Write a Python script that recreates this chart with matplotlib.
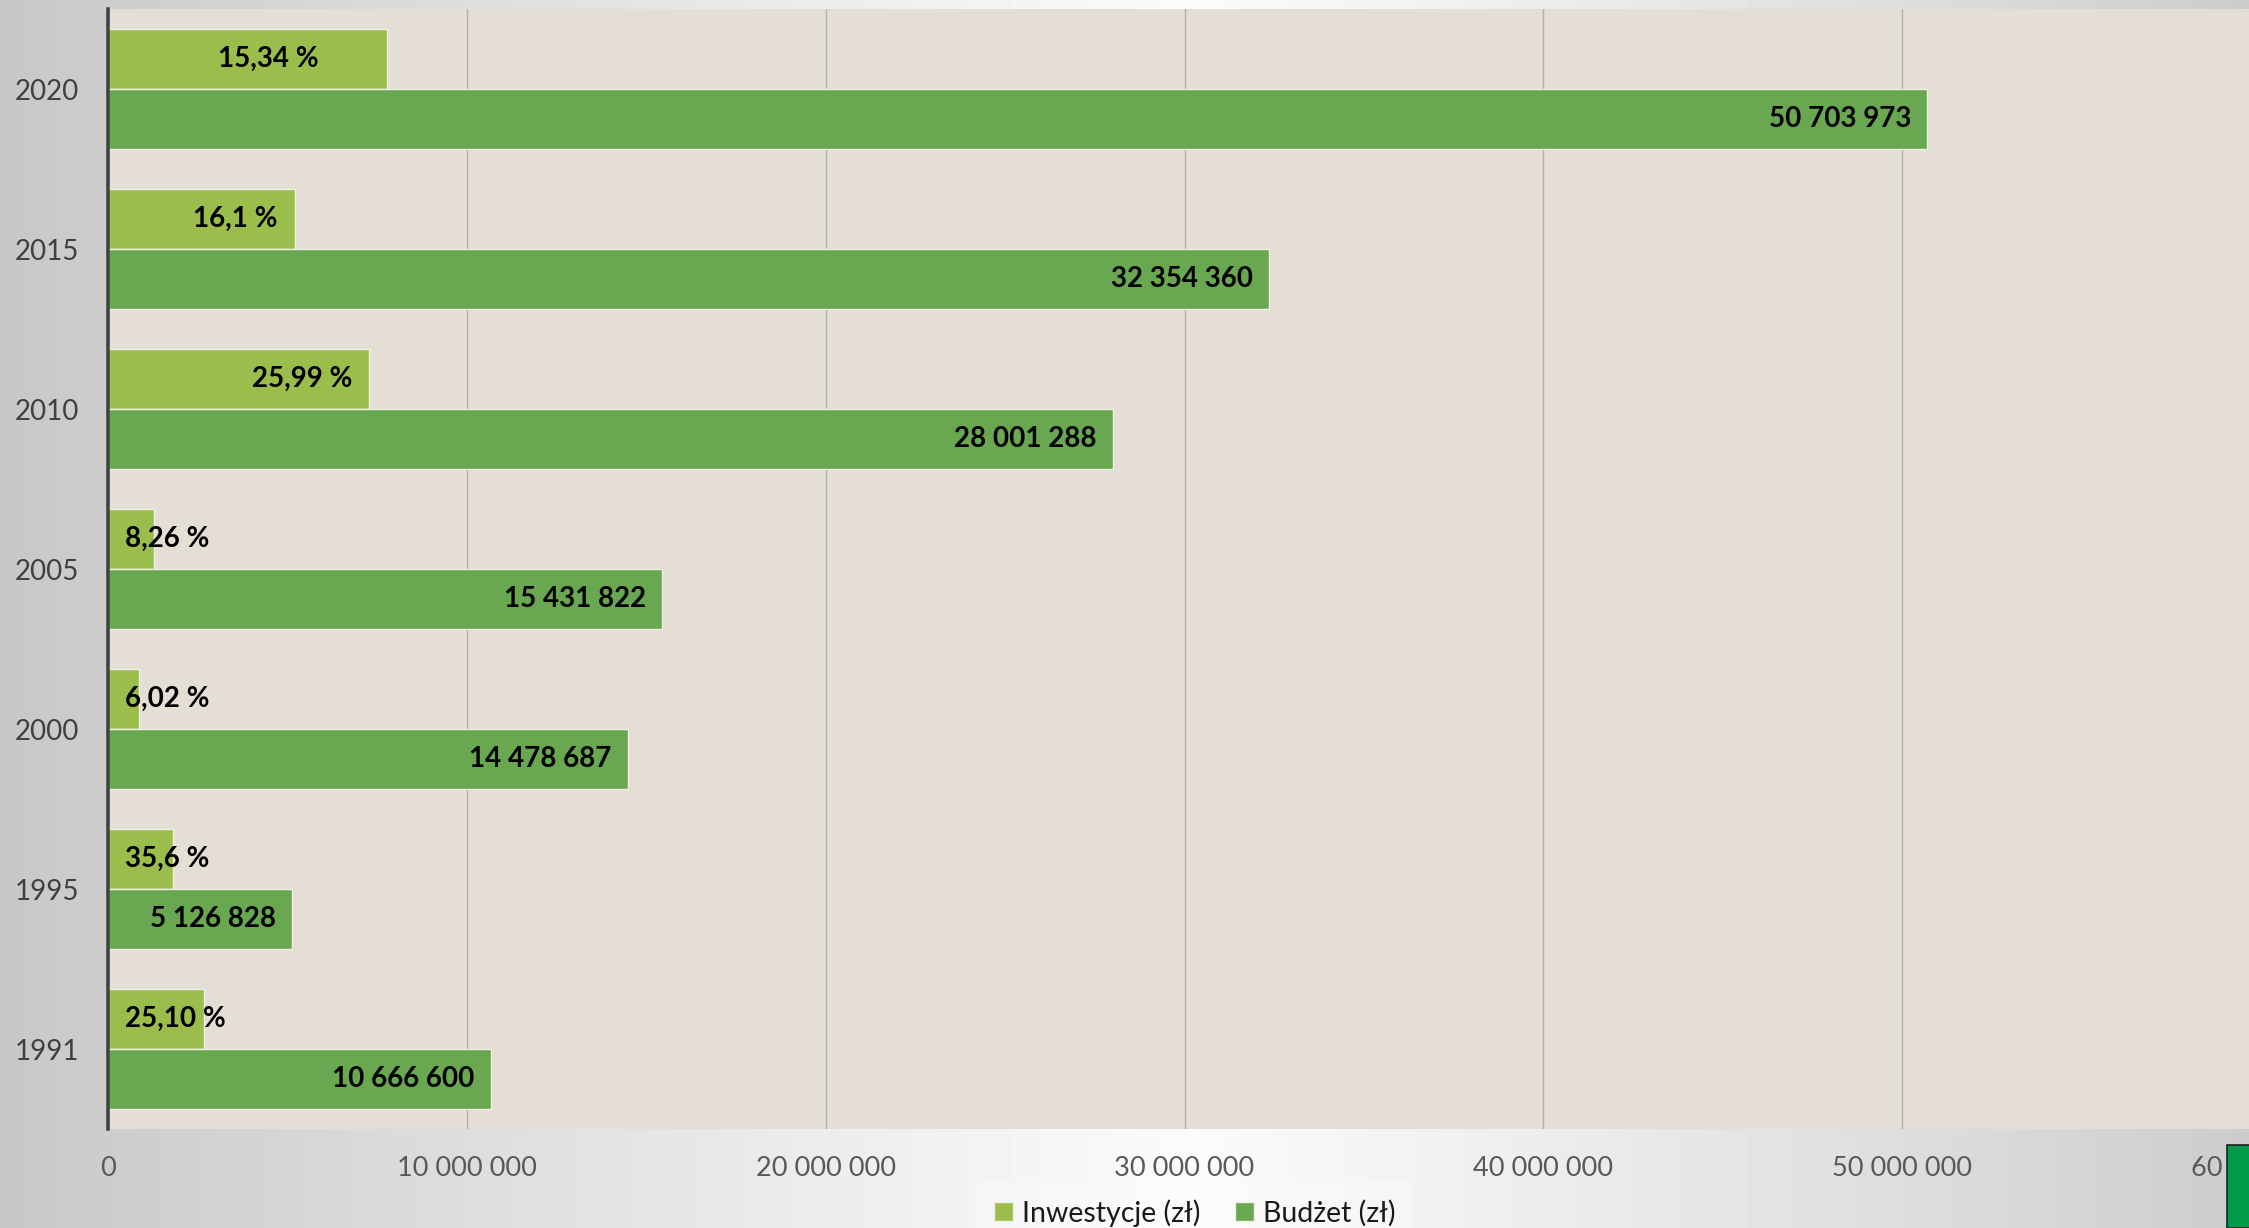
import matplotlib
matplotlib.use('Agg')
import matplotlib.pyplot as plt
import numpy as np
from matplotlib.patches import Rectangle, Patch

# ---------------- data ----------------
years = ['1991', '1995', '2000', '2005', '2010', '2015', '2020']
budzet = [10666600, 5126828, 14478687, 15431822, 28001288, 32354360, 50703973]
inwestycje = [2677000, 1825000, 872000, 1275000, 7277000, 5209000, 7778000]
inw_labels = ['25,10 %', '35,6 %', '6,02 %', '8,26 %', '25,99 %', '16,1 %', '15,34 %']
bud_labels = ['10 666 600', '5 126 828', '14 478 687', '15 431 822',
              '28 001 288', '32 354 360', '50 703 973']
xtick_values = [0, 10000000, 20000000, 30000000, 40000000, 50000000, 60000000]
xtick_labels = ['0', '10 000 000', '20 000 000', '30 000 000', '40 000 000',
                '50 000 000', '60 000 000']
series_names = ['Inwestycje (zł)', 'Budżet (zł)']

# ---------------- style ----------------
FONT = ['Lato', 'DejaVu Sans']
plt.rcParams['font.family'] = FONT
C_INW = '#9bbd4c'
C_BUD = '#69a751'
PLOT_BG = '#e4ded4'
DPI = 100
W, H = 2249, 1228
px = 72.0 / DPI  # points per pixel

# label placement for Inwestycje labels (alignment + offset in px)
inw_align = ['left', 'left', 'left', 'left', 'right', 'right', 'right']
inw_offset = [17, 17, 17, 17, -17, -17, -68]

fig = plt.figure(figsize=(W / DPI, H / DPI), dpi=DPI)

# background gradient
bg = fig.add_axes([0, 0, 1, 1], zorder=-10)
xs = np.linspace(0, 1, 600)
peak = 0.53
vals = np.where(xs < peak,
                0.78 + (0.985 - 0.78) * (xs / peak) ** 0.9,
                0.80 + (0.985 - 0.80) * ((1 - xs) / (1 - peak)) ** 0.9)
grad = np.tile(vals, (20, 1))
bg.imshow(grad, cmap='gray', vmin=0, vmax=1, aspect='auto', extent=[0, 1, 0, 1])
bg.set_axis_off()

# main axes
left, right = 108, 2261
top, bottom = 9, 1129
ax = fig.add_axes([left / W, (H - bottom) / H, (right - left) / W, (bottom - top) / H])
ax.set_facecolor(PLOT_BG)

y = np.arange(len(years))
h = 0.375
ax.barh(y + h / 2, inwestycje, height=h, color=C_INW, edgecolor='#eef2e4',
        linewidth=1.0, zorder=3, label=series_names[0])
ax.barh(y - h / 2, budzet, height=h, color=C_BUD, edgecolor='#eef2e4',
        linewidth=1.0, zorder=3, label=series_names[1])

ax.set_xlim(0, 60000000)
ax.set_ylim(-0.5, len(years) - 0.5)
ax.set_xticks(xtick_values)
ax.set_xticklabels(xtick_labels)
ax.set_yticks(y)
ax.set_yticklabels(years)
ax.tick_params(axis='x', length=0, pad=27 * px, labelsize=19.5, labelcolor='#595959')
ax.tick_params(axis='y', length=0, pad=29 * px, labelsize=20, labelcolor='#404040')
ax.grid(axis='x', color='#b2b0a8', linewidth=1.0 * px * 1.4, zorder=1)
ax.set_axisbelow(True)
for s in ['top', 'right', 'bottom']:
    ax.spines[s].set_visible(False)
ax.spines['left'].set_color('#404040')
ax.spines['left'].set_linewidth(3.5 * px)
ax.spines['left'].set_zorder(5)

# labels
for i in range(len(years)):
    ax.annotate(bud_labels[i], xy=(budzet[i], y[i] - h / 2),
                xytext=(-16 * px, 0), textcoords='offset points',
                ha='right', va='center', fontsize=20, fontweight='bold',
                color='black', zorder=6)
    if inw_align[i] == 'left':
        ax.annotate(inw_labels[i], xy=(0, y[i] + h / 2),
                    xytext=(inw_offset[i] * px, 0), textcoords='offset points',
                    ha='left', va='center', fontsize=20, fontweight='bold',
                    color='black', zorder=6)
    else:
        ax.annotate(inw_labels[i], xy=(inwestycje[i], y[i] + h / 2),
                    xytext=(inw_offset[i] * px, 0), textcoords='offset points',
                    ha='right', va='center', fontsize=20, fontweight='bold',
                    color='black', zorder=6)

# legend
handles = [Patch(facecolor=C_INW, edgecolor='#eef2e4'),
           Patch(facecolor=C_BUD, edgecolor='#eef2e4')]
leg = fig.legend(handles, series_names, loc='center',
                 bbox_to_anchor=(1195 / W, 1 - 1213 / H), ncol=2,
                 fontsize=20.5, frameon=True, handlelength=0.65, handleheight=0.65,
                 handletextpad=0.35, columnspacing=1.2, borderpad=0.6)
leg.get_frame().set_facecolor('#ffffff')
leg.get_frame().set_alpha(0.25)
leg.get_frame().set_edgecolor('none')
leg.get_frame().set_boxstyle('square', pad=0)
for t in leg.get_texts():
    t.set_color('#1a1a1a')

# green logo corner
fig.patches.append(Rectangle((2227 / W, 0), (W - 2227) / W + 0.01, (H - 1145) / H,
                             transform=fig.transFigure, facecolor='#009a48',
                             edgecolor='#1f1f1f', linewidth=1.2, zorder=20))

fig.savefig('out.png', dpi=DPI)
